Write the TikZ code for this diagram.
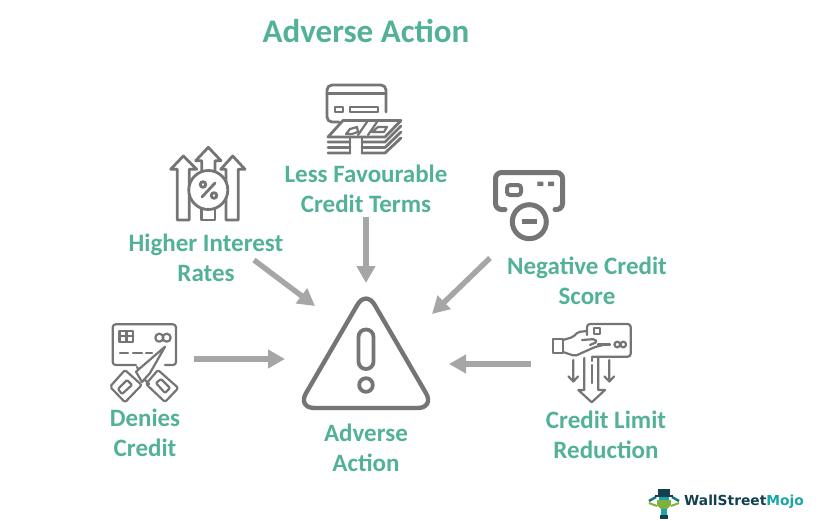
\documentclass[tikz,border=0pt]{standalone}
\usepackage{fontspec}
\usetikzlibrary{arrows.meta}
\setmainfont{Carlito}
\newfontfamily\logofont{DejaVu Sans}
\definecolor{lab}{HTML}{52B197}
\definecolor{arr}{HTML}{A6A6A6}
\definecolor{ico}{HTML}{757575}
\definecolor{wsdark}{HTML}{12404F}
\definecolor{wsteal}{HTML}{1AA5A8}
\definecolor{wsgreen}{HTML}{7FB03C}
\tikzset{
 lbl/.style={text=lab,font=\fontsize{25}{30}\selectfont\bfseries,align=center,inner sep=0pt},
 conn/.style={draw=arr,line width=5.4pt,-{Triangle[length=17pt,width=18pt]}},
 th/.style={draw=ico,line width=2.2pt,line join=round,line cap=round},
 md/.style={draw=ico,line width=2.8pt,line join=round,line cap=round},
 tk/.style={draw=ico,line width=5pt,line join=round,line cap=round},
}
\begin{document}
\begin{tikzpicture}[x=1pt,y=-1pt]
\useasboundingbox (0,0) rectangle (835,520);
\node[lbl,font=\fontsize{33}{36}\selectfont\bfseries] (title) at (366,31) {Adverse Action};
\node[lbl] (less) at (366,189) {Less Favourable\\Credit Terms};
\node[lbl] (high) at (206,257.5) {Higher Interest\\Rates};
\node[lbl] (neg) at (587,281) {Negative Credit\\Score};
\node[lbl] (den) at (145,433) {Denies\\Credit};
\node[lbl] (lim) at (606,435) {Credit Limit\\Reduction};
\node[lbl] (adv) at (366,448) {Adverse\\Action};
% connectors
\coordinate (a1s) at (254,260); \coordinate (a1e) at (315,306);
\coordinate (a2s) at (366,217); \coordinate (a2e) at (366,283);
\coordinate (a3s) at (490,258); \coordinate (a3e) at (432,314);
\coordinate (a4s) at (194,359); \coordinate (a4e) at (285,359);
\coordinate (a5s) at (531,364); \coordinate (a5e) at (449,364);
\draw[conn] (a1s) -- (a1e);
\draw[conn] (a2s) -- (a2e);
\draw[conn] (a3s) -- (a3e);
\draw[conn] (a4s) -- (a4e);
\draw[conn] (a5s) -- (a5e);
% warning triangle
\draw[draw=ico,line width=4.4pt,rounded corners=17pt,line join=round] (366,290) -- (434.6,408) -- (297.4,408) -- cycle;
\draw[draw=ico,line width=3.8pt,rounded corners=7.4pt] (358.5,329.5) rectangle (373.5,369);
\draw[draw=ico,line width=3.8pt] (366,385) circle (6.8);
% card + cash icon
\draw[md,rounded corners=5pt] (339,122) -- (327,122) -- (327,85) -- (386,85) -- (386,112);
\draw[md] (327,93.5) -- (386,93.5);
\draw[th] (335,107) rectangle (343,112) (350,107) rectangle (378,112);
\draw[md,fill=white] (343,120.5) -- (401,120.5) -- (385,137) -- (328,137) -- cycle;
\draw[th] (346,134) -- (350,129) -- (357,127) -- (358,132) -- (352,134) -- cycle;
\draw[th] (372,132) -- (378,127) -- (387,127) -- (384,132) -- cycle;
\draw[th] (358,135) -- (367,122) (368,135) -- (377,122);
\draw[md] (328,142) -- (350,142) (362,142) -- (385,142) -- (401,126);
\draw[md] (328,147.5) -- (350,147.5) (362,147.5) -- (385,147.5) -- (401,132);
\draw[md] (328,153) -- (350,153) (362,153) -- (385,153) -- (401,138);
\draw[md] (350,137) -- (350,153) (362,137) -- (362,153);
% rates icon
\draw[md] (177.3,220) -- (177.3,169.3) -- (170.7,169.3) -- (183.3,156) -- (196.7,169.3) -- (189.3,169.3) -- (189.3,220) -- cycle;
\draw[md] (226,220) -- (226,169.3) -- (220.7,169.3) -- (232.7,156) -- (245,169.3) -- (238.3,169.3) -- (238.3,220) -- cycle;
\draw[md] (201.7,175) -- (201.7,160.7) -- (195.7,160.7) -- (208.3,147.3) -- (221,160.7) -- (215,160.7) -- (215,175);
\draw[md] (201.7,208) -- (201.7,220) -- (215,220) -- (215,208);
\draw[md,fill=white] (208.3,190) circle (19.5);
\draw[md] (202,197) -- (215,183);
\draw[md] (203,184.5) circle (2.8) (214,195.5) circle (2.8);
% negative score icon
\draw[tk,rounded corners=6pt] (505,209.5) -- (495.5,209.5) -- (495.5,172.5) -- (562.5,172.5) -- (562.5,209.5) -- (555,209.5);
\draw[draw=ico,line width=4pt,rounded corners=3pt] (507,185) rectangle (521,195);
\fill[ico] (537.3,181.7) rectangle (543.3,186) (548,181.7) rectangle (554,186);
\draw[tk] (529.3,221.7) circle (17);
\fill[ico] (521.7,219.3) rectangle (537.3,224);
% denies credit icon
\draw[th,rounded corners=3pt] (136,365) -- (112.7,365) -- (112.7,324.3) -- (176,324.3) -- (176,365) -- (165,365);
\draw[th] (119.5,331) rectangle (133.3,341.7) (126.4,331) -- (126.4,341.7) (119.5,336.3) -- (133.3,336.3);
\draw[th] (159.3,337.7) circle (4) (166.7,337.7) circle (4);
\draw[th] (120,352.7) -- (128,352.7) (133,352.7) -- (142,352.7) (146,352.7) -- (152,352.7);
\draw[th,fill=white,rounded corners=2pt] (110,386.7) -- (125,370) -- (141.7,385) -- (125,402.3) -- cycle;
\draw[th,rounded corners=1pt] (118,389) -- (127,380) -- (132,385) -- (122,394) -- cycle;
\draw[th,fill=white,rounded corners=2pt] (146,384) -- (158,370) -- (178.3,388) -- (165,402) -- cycle;
\draw[th,rounded corners=1pt] (156,383) -- (161,379) -- (170,388) -- (165,393) -- cycle;
\draw[th] (137,367) -- (143,378) -- (149,384);
\draw[th,fill=white,line cap=butt] (165,346.7) -- (136,371.7) -- (142,382) -- (150,373) -- cycle;
% credit limit icon
\draw[th,rounded corners=3pt] (587,335) -- (587,324) -- (630.7,324) -- (630.7,356.7) -- (592,356.7);
\draw[th] (594,328) rectangle (600,334);
\draw[th] (552.7,339) rectangle (563,353.3);
\draw[th,rounded corners=2pt] (563,340) -- (573,337) -- (578,332) -- (587,331);
\draw[th,rounded corners=2pt] (563,352) -- (575,356) -- (595,347) -- (605,344.5);
\draw[th,rounded corners=2pt] (582,340) -- (595,339) -- (597,342) -- (590,345);
\draw[th] (598,344.5) -- (610,344.5);
\draw[th] (617.3,344.5) circle (2.8) (623.3,344.5) circle (2.8);
\draw[th] (573.3,360) -- (573.3,381) (568.5,376.5) -- (573.3,381.5) -- (578,376.5);
\draw[th] (609.3,360) -- (609.3,381) (604.5,376.5) -- (609.3,381.5) -- (614,376.5);
\draw[th] (584.3,358) -- (584.3,390) -- (578.3,390) -- (591.7,402.3) -- (605,390) -- (598.3,390) -- (598.3,358);
\draw[th] (591.7,358) -- (591.7,361) (591.7,365) -- (591.7,383);
% logo
\draw[wsteal!70!black,line width=2.4pt] (649,501) -- (656,497) (679,501) -- (672,497);
\draw[wsgreen,line width=2pt] (649,503) -- (657,506) (679,503) -- (671,506);
\fill[wsdark] (658,489) rectangle (670,495);
\fill[wsdark] (655,495) rectangle (673,497);
\fill[wsteal] (659,497) rectangle (669,500);
\fill[wsgreen] (657,500) -- (671,500) -- (671,505) -- (667,509) -- (661,509) -- (657,505) -- cycle;
\fill[wsteal] (661,509) rectangle (667,515);
\fill[wsdark] (660,515) rectangle (668,519);
\node[inner sep=0pt,anchor=west,font=\logofont\bfseries\fontsize{13.8}{16}\selectfont] (logo) at (684,502) {\textcolor{wsdark}{WallStreet}\textcolor{wsteal}{Mojo}};
\end{tikzpicture}
\end{document}
